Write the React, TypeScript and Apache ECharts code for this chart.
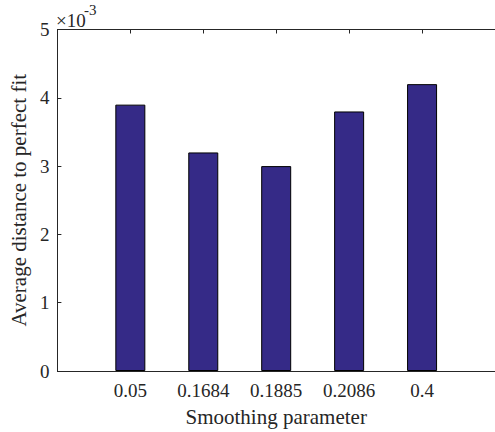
import React, { useEffect, useRef } from "react";
import * as echarts from "echarts";

// Smoothing parameter settings on the x axis
const categories: string[] = ["0.05", "0.1684", "0.1885", "0.2086", "0.4"];
// Average distance to perfect fit, in units of 1e-3
const distances: number[] = [3.9, 3.2, 3.0, 3.8, 4.2];
const yTicks: number[] = [0, 1, 2, 3, 4, 5];

const FONT = "'Liberation Serif', 'Times New Roman', serif";
const AXIS_COLOR = "#262626";
const BAR_COLOR = "#352a87";

export default function App() {
  const ref = useRef<HTMLDivElement>(null);

  useEffect(() => {
    if (!ref.current) return;
    const chart = echarts.init(ref.current, null, { renderer: "svg" });
    const positions = categories.map((_, i) => i + 1);

    const xCommon = {
      type: "value",
      min: 0,
      max: categories.length + 1,
      interval: 1,
      splitLine: { show: false },
      axisLine: { show: true, onZero: false, lineStyle: { color: AXIS_COLOR, width: 1 } },
      axisTick: {
        show: true,
        inside: true,
        length: 4,
        customValues: positions,
        lineStyle: { color: AXIS_COLOR },
      },
    };

    chart.setOption({
      animation: false,
      backgroundColor: "#ffffff",
      grid: { left: 54, top: 29.5, right: -5.5, bottom: 59.5, containLabel: false },
      xAxis: [
        {
          ...xCommon,
          position: "bottom",
          axisLabel: {
            show: true,
            customValues: positions,
            formatter: (v: number) => categories[Math.round(v) - 1] ?? "",
            fontFamily: FONT,
            fontSize: 19,
            color: AXIS_COLOR,
            margin: 10,
          },
          name: "Smoothing parameter",
          nameLocation: "middle",
          nameGap: 35,
          nameTextStyle: { fontFamily: FONT, fontSize: 21, color: AXIS_COLOR },
        },
        {
          ...xCommon,
          position: "top",
          axisLabel: { show: false },
        },
      ],
      yAxis: {
        type: "value",
        position: "left",
        min: yTicks[0],
        max: yTicks[yTicks.length - 1],
        interval: 1,
        splitLine: { show: false },
        axisLine: { show: true, onZero: false, lineStyle: { color: AXIS_COLOR, width: 1 } },
        axisTick: { show: true, inside: true, length: 4, lineStyle: { color: AXIS_COLOR } },
        axisLabel: {
          fontFamily: FONT,
          fontSize: 19,
          color: AXIS_COLOR,
          margin: 8,
        },
        name: "Average distance to perfect fit",
        nameLocation: "middle",
        nameGap: 19,
        nameTextStyle: { fontFamily: FONT, fontSize: 21, color: AXIS_COLOR },
      },
      graphic: [
        {
          type: "text",
          x: 56,
          y: 30,
          style: {
            text: "×10",
            font: `19px ${FONT}`,
            fill: AXIS_COLOR,
            textVerticalAlign: "bottom",
          },
        },
        {
          type: "text",
          x: 84,
          y: 17,
          style: {
            text: "-3",
            font: `15px ${FONT}`,
            fill: AXIS_COLOR,
            textVerticalAlign: "bottom",
          },
        },
      ],
      series: [
        {
          type: "bar",
          xAxisIndex: 0,
          yAxisIndex: 0,
          barWidth: 30,
          data: distances.map((v, i) => [positions[i], v]),
          itemStyle: { color: BAR_COLOR, borderColor: "#000000", borderWidth: 1 },
        },
      ],
    });

    return () => chart.dispose();
  }, []);

  return (
    <div
      ref={ref}
      style={{ position: "fixed", left: 0, top: 0, width: 495, height: 432, background: "#fff" }}
    />
  );
}
